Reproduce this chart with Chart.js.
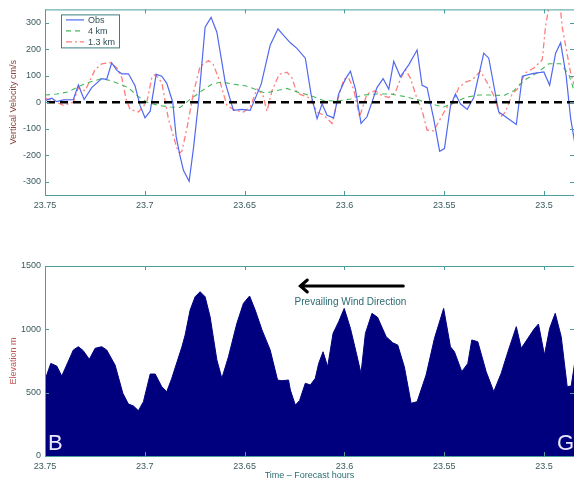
<!DOCTYPE html>
<html><head><meta charset="utf-8">
<script src="https://cdn.jsdelivr.net/npm/chart.js@4/dist/chart.umd.min.js"></script>
<style>
html,body{margin:0;padding:0;background:#fff;width:574px;height:481px;overflow:hidden}
canvas{position:absolute;left:0}
#c1{top:0}
#c2{top:250px}
</style></head><body>
<canvas id="c1" width="574" height="215"></canvas>
<canvas id="c2" width="574" height="231"></canvas>
<script>
// ---------- DATA ----------
const xTickValues = [23.75, 23.7, 23.65, 23.6, 23.55, 23.5];
const xTickLabels = ['23.75', '23.7', '23.65', '23.6', '23.55', '23.5'];
const velTickValues = [-300, -200, -100, 0, 100, 200, 300];
const elevTickValues = [0, 500, 1000, 1500];
const seriesNames = ['Obs', '4 km', '1.3 km'];

const obsTime = [23.7500,23.7466,23.7441,23.7408,23.7358,23.7333,23.7304,23.7266,23.7216,23.7191,23.7166,23.7140,23.7115,23.7082,23.7049,23.7024,23.6999,23.6973,23.6943,23.6915,23.6890,23.6860,23.6843,23.6823,23.6806,23.6778,23.6756,23.6731,23.6698,23.6668,23.6639,23.6597,23.6556,23.6514,23.6472,23.6417,23.6372,23.6333,23.6305,23.6271,23.6238,23.6196,23.6166,23.6137,23.6112,23.6087,23.6054,23.6029,23.5996,23.5970,23.5945,23.5917,23.5887,23.5837,23.5806,23.5778,23.5753,23.5720,23.5678,23.5636,23.5611,23.5586,23.5553,23.5523,23.5499,23.5469,23.5444,23.5419,23.5385,23.5352,23.5302,23.5277,23.5227,23.5193,23.5139,23.5109,23.5059,23.5001,23.4972,23.4942,23.4917,23.4889,23.4867,23.4847];
const obsVel = [6,15,2,9,10,65,10,55,89,86,148,120,107,107,62,-12,-59,-34,105,98,71,0,-130,-205,-258,-298,-172,0,283,320,264,74,-31,-27,-31,68,215,277,252,224,203,166,25,-62,-6,-49,-59,31,86,117,49,-80,-55,55,89,49,154,96,141,197,64,55,-62,-185,-175,-15,31,-6,-27,18,185,166,-37,-55,-84,98,108,114,64,185,224,98,-60,-150];

const km4Time = [23.7500,23.7441,23.7383,23.7324,23.7274,23.7216,23.7166,23.7124,23.7082,23.7040,23.6990,23.6932,23.6873,23.6823,23.6781,23.6714,23.6664,23.6614,23.6556,23.6497,23.6447,23.6397,23.6347,23.6288,23.6230,23.6171,23.6104,23.6037,23.5970,23.5904,23.5837,23.5770,23.5703,23.5636,23.5569,23.5503,23.5444,23.5394,23.5327,23.5260,23.5202,23.5152,23.5093,23.5034,23.4976,23.4917,23.4876,23.4847];
const km4Vel = [27,31,39,62,76,89,80,68,55,25,0,-12,-18,-20,6,43,68,76,68,62,49,34,43,52,37,25,6,4,12,27,31,31,22,10,-6,-18,0,18,27,27,25,43,86,111,145,145,105,37];

const km13Time = [23.7500,23.7458,23.7408,23.7358,23.7333,23.7299,23.7249,23.7216,23.7174,23.7140,23.7115,23.7094,23.7074,23.7032,23.6990,23.6965,23.6948,23.6915,23.6882,23.6840,23.6826,23.6814,23.6789,23.6756,23.6723,23.6681,23.6656,23.6622,23.6589,23.6547,23.6506,23.6472,23.6438,23.6410,23.6388,23.6363,23.6327,23.6288,23.6263,23.6238,23.6205,23.6171,23.6137,23.6104,23.6062,23.6037,23.6004,23.5979,23.5954,23.5924,23.5887,23.5845,23.5812,23.5778,23.5745,23.5720,23.5695,23.5670,23.5636,23.5611,23.5586,23.5553,23.5519,23.5486,23.5460,23.5427,23.5394,23.5360,23.5319,23.5285,23.5252,23.5218,23.5193,23.5160,23.5134,23.5093,23.5051,23.5009,23.4993,23.4967,23.4927,23.4909,23.4867,23.4847];
const km13Vel = [15,5,-12,0,55,43,123,145,150,129,92,12,-27,-37,0,92,105,74,-62,-172,-192,-185,-98,37,135,157,141,74,-12,-31,-37,-18,49,31,-34,43,105,113,92,34,25,15,-37,-49,-80,0,86,92,49,-55,31,43,25,18,37,86,123,92,12,-31,-105,-108,-62,-18,-6,55,76,84,117,74,25,-55,-37,31,49,111,129,160,283,400,420,283,111,60];

const elevTime = [23.7500,23.7471,23.7441,23.7416,23.7358,23.7333,23.7308,23.7278,23.7249,23.7216,23.7191,23.7149,23.7110,23.7082,23.7057,23.7032,23.7007,23.6973,23.6948,23.6915,23.6890,23.6865,23.6814,23.6798,23.6773,23.6748,23.6723,23.6698,23.6673,23.6639,23.6614,23.6581,23.6539,23.6506,23.6475,23.6447,23.6413,23.6372,23.6335,23.6313,23.6280,23.6271,23.6246,23.6225,23.6196,23.6171,23.6146,23.6129,23.6107,23.6084,23.6057,23.6029,23.6001,23.5970,23.5942,23.5917,23.5895,23.5862,23.5834,23.5791,23.5758,23.5733,23.5700,23.5666,23.5636,23.5591,23.5549,23.5503,23.5469,23.5449,23.5412,23.5382,23.5362,23.5332,23.5290,23.5252,23.5215,23.5178,23.5139,23.5114,23.5081,23.5051,23.5028,23.4998,23.4972,23.4944,23.4914,23.4884,23.4864,23.4847];
const elevVal = [600,731,710,631,837,863,831,763,850,863,837,718,495,410,395,358,429,647,647,547,508,613,863,955,1152,1257,1297,1257,1100,758,613,784,1047,1205,1263,1152,995,837,600,594,600,521,402,437,574,561,613,731,823,705,968,1060,1165,1008,823,652,968,1126,1095,942,894,876,705,416,429,639,929,1165,863,823,666,731,916,902,666,508,652,837,1021,850,929,1000,1042,797,1008,1126,942,547,553,731];

// annotation anchors (data units)
const arrowFrom = {x: 23.5705, y: 1342};
const arrowTo = {x: 23.6221, y: 1342};
const arrowText = {x: 23.597, y: 1212, text: 'Prevailing Wind Direction'};
const endLabels = [{text: 'B', side: 'left'}, {text: 'G', side: 'right'}];

// ---------- STYLE ----------
const FONT = '"Liberation Sans", Arial, Helvetica, sans-serif';
Chart.defaults.font.family = FONT;
Chart.defaults.font.size = 9;
const TICK_COLOR = '#3a5a5e';
const AXIS_COLOR = '#4a9ea0';

function pts(xs, ys) { return xs.map((x, i) => ({x: x, y: ys[i]})); }

const framePlugin = {
  id: 'frame',
  afterDraw(chart) {
    const {ctx, chartArea: a, scales} = chart;
    ctx.save();
    ctx.strokeStyle = AXIS_COLOR;
    ctx.lineWidth = 1;
    ctx.strokeRect(a.left + 0.5, a.top + 0.5, a.right - a.left, a.bottom - a.top);
    ctx.beginPath();
    scales.x.ticks.forEach(t => {
      const px = Math.round(scales.x.getPixelForValue(t.value)) + 0.5;
      ctx.moveTo(px, a.bottom); ctx.lineTo(px, a.bottom - 4);
      ctx.moveTo(px, a.top); ctx.lineTo(px, a.top + 4);
    });
    scales.y.ticks.forEach(t => {
      const py = Math.round(scales.y.getPixelForValue(t.value)) + 0.5;
      ctx.moveTo(a.left, py); ctx.lineTo(a.left + 4, py);
      ctx.moveTo(a.right, py); ctx.lineTo(a.right - 4, py);
    });
    ctx.stroke();
    ctx.restore();
  }
};

const zeroLinePlugin = {
  id: 'zeroLine',
  afterDatasetsDraw(chart) {
    const {ctx, chartArea: a, scales} = chart;
    const py = scales.y.getPixelForValue(0);
    ctx.save();
    ctx.strokeStyle = '#000';
    ctx.lineWidth = 2.6;
    ctx.setLineDash([8, 5]);
    ctx.beginPath();
    ctx.moveTo(a.left + 2, py); ctx.lineTo(a.right, py);
    ctx.stroke();
    ctx.restore();
  }
};

const legendBoxPlugin = {
  id: 'legendBox',
  afterDraw(chart) {
    const {ctx, chartArea: a} = chart;
    const x0 = a.left + 16, y0 = a.top + 5, w = 58, h = 33;
    ctx.save();
    ctx.fillStyle = '#fff';
    ctx.fillRect(x0, y0, w, h);
    ctx.strokeStyle = '#3f7f80';
    ctx.lineWidth = 1;
    ctx.strokeRect(x0 + 0.5, y0 + 0.5, w, h);
    chart.data.datasets.forEach((ds, i) => {
      const yy = y0 + 5.5 + i * 11;
      ctx.strokeStyle = ds.borderColor;
      ctx.lineWidth = ds.borderWidth;
      ctx.setLineDash(ds.borderDash || []);
      ctx.beginPath();
      ctx.moveTo(x0 + 5, yy); ctx.lineTo(x0 + 23, yy);
      ctx.stroke();
      ctx.setLineDash([]);
      ctx.fillStyle = '#2f4f55';
      ctx.font = '9px ' + FONT;
      ctx.textBaseline = 'middle';
      ctx.textAlign = 'left';
      ctx.fillText(ds.label, x0 + 27, yy + 0.5);
    });
    ctx.restore();
  }
};

const annotPlugin = {
  id: 'annot',
  afterDraw(chart) {
    const {ctx, chartArea: a, scales} = chart;
    const x1 = scales.x.getPixelForValue(arrowFrom.x), y1 = scales.y.getPixelForValue(arrowFrom.y);
    const x2 = scales.x.getPixelForValue(arrowTo.x), y2 = scales.y.getPixelForValue(arrowTo.y);
    ctx.save();
    ctx.strokeStyle = '#000';
    ctx.lineWidth = 3;
    ctx.lineCap = 'round';
    ctx.beginPath();
    ctx.moveTo(x1, y1); ctx.lineTo(x2 + 1, y2);
    ctx.moveTo(x2 + 7, y2 - 6); ctx.lineTo(x2, y2); ctx.lineTo(x2 + 7, y2 + 6);
    ctx.stroke();
    ctx.fillStyle = '#2a6a70';
    ctx.font = '10px ' + FONT;
    ctx.textAlign = 'center';
    ctx.textBaseline = 'middle';
    ctx.fillText(arrowText.text, scales.x.getPixelForValue(arrowText.x), scales.y.getPixelForValue(arrowText.y));
    ctx.fillStyle = '#ece6ff';
    ctx.font = '22px ' + FONT;
    ctx.textBaseline = 'alphabetic';
    endLabels.forEach(l => {
      if (l.side === 'left') { ctx.textAlign = 'left'; ctx.fillText(l.text, a.left + 3, a.bottom - 6); }
      else { ctx.textAlign = 'left'; ctx.fillText(l.text, a.right - 17, a.bottom - 6); }
    });
    ctx.restore();
  }
};

function xScale(height) {
  return {
    type: 'linear', reverse: true, min: 23.485, max: 23.75,
    grid: {display: false, drawTicks: false}, border: {display: false},
    afterBuildTicks(s) { s.ticks = xTickValues.map(v => ({value: v})); },
    afterFit(s) { s.height = height; },
    ticks: {
      color: TICK_COLOR, padding: 5, autoSkip: false, maxRotation: 0,
      callback(v) { const i = xTickValues.indexOf(v); return i >= 0 ? xTickLabels[i] : ''; }
    }
  };
}

// ---------- TOP CHART ----------
new Chart(document.getElementById('c1'), {
  type: 'line',
  data: {
    datasets: [
      {label: seriesNames[0], data: pts(obsTime, obsVel), borderColor: '#5068f0', borderWidth: 1.2, pointRadius: 0, fill: false, tension: 0},
      {label: seriesNames[1], data: pts(km4Time, km4Vel), borderColor: '#45b85a', borderWidth: 1.1, borderDash: [5, 4], pointRadius: 0, fill: false, tension: 0},
      {label: seriesNames[2], data: pts(km13Time, km13Vel), borderColor: '#ff7d7d', borderWidth: 1.3, borderDash: [6, 3, 2, 3], pointRadius: 0, fill: false, tension: 0}
    ]
  },
  options: {
    responsive: false, animation: false, devicePixelRatio: 1,
    parsing: false,
    layout: {padding: {top: 7, right: 0, left: 0, bottom: 0}},
    plugins: {legend: {display: false}, tooltip: {enabled: false}},
    scales: {
      x: xScale(20),
      y: {
        type: 'linear', min: -350, max: 350,
        grid: {display: false, drawTicks: false}, border: {display: false},
        afterBuildTicks(s) { s.ticks = velTickValues.map(v => ({value: v})); },
        afterFit(s) { s.width = 45; },
        ticks: {color: TICK_COLOR, padding: 4, callback(v) { return String(v); }},
        title: {display: true, text: 'Vertical Velocity cm/s', color: '#8a4a42', font: {size: 9}, padding: {top: 8, bottom: 0}}
      }
    }
  },
  plugins: [zeroLinePlugin, framePlugin, legendBoxPlugin]
});

// ---------- BOTTOM CHART ----------
new Chart(document.getElementById('c2'), {
  type: 'line',
  data: {
    datasets: [
      {label: 'Elevation', data: pts(elevTime, elevVal), borderColor: '#00007f', backgroundColor: '#00007f', borderWidth: 1, pointRadius: 0, fill: 'origin', tension: 0}
    ]
  },
  options: {
    responsive: false, animation: false, devicePixelRatio: 1,
    parsing: false,
    layout: {padding: {top: 16, right: 0, left: 0, bottom: 0}},
    plugins: {legend: {display: false}, tooltip: {enabled: false}},
    scales: {
      x: Object.assign(xScale(25), {
        title: {display: true, text: 'Time – Forecast hours', color: '#2a7070', font: {size: 9}, padding: {top: 0, bottom: 0}}
      }),
      y: {
        type: 'linear', min: 0, max: 1500,
        grid: {display: false, drawTicks: false}, border: {display: false},
        afterBuildTicks(s) { s.ticks = elevTickValues.map(v => ({value: v})); },
        afterFit(s) { s.width = 45; },
        ticks: {color: TICK_COLOR, padding: 4, callback(v) { return String(v); }},
        title: {display: true, text: 'Elevation m', color: '#c05858', font: {size: 9}, padding: {top: 8, bottom: 0}}
      }
    }
  },
  plugins: [framePlugin, annotPlugin]
});
</script>
</body></html>
